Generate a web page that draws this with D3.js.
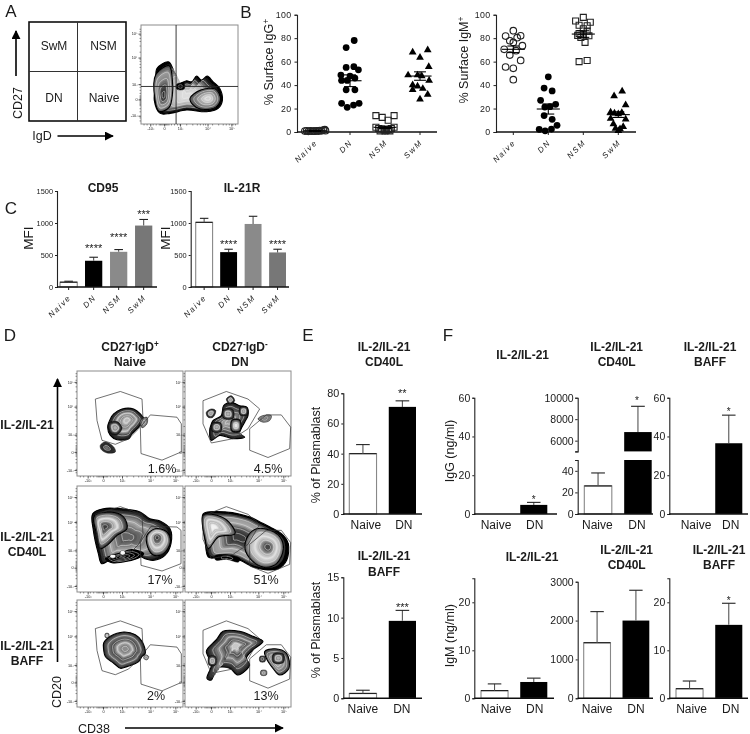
<!DOCTYPE html>
<html><head><meta charset="utf-8">
<script src="https://cdn.jsdelivr.net/npm/d3@7"></script>
<style>html,body{margin:0;padding:0;background:#fff}svg{display:block}text{font-family:"Liberation Sans",Arial,sans-serif;fill:#1a1a1a}</style>
</head><body><svg id="c" width="750" height="734"></svg>
<script>
// ---------- Panel B data: [offset within category, % value]
const cellTypes = ["Naive","DN","NSM","SwM"];
const igGNaive = [[-.29,.8],[-.24,1],[-.19,.6],[-.14,.9],[-.09,.7],[-.04,.8],[0,.7],[.05,.9],[.1,.8],[.14,1.2],[.19,1],[.24,1.6],[.28,2],[.3,1.1]];
const igGDN = [[.12,78],[-.11,72],[-.11,55],[.11,55.7],[.24,53],[-.26,48.5],[0,47.7],[-.08,44],[-.24,44],[.14,46],[-.11,36],[.14,36],[-.24,24.5],[-.08,21],[.1,23],[.26,24.5]];
const igGNSM = [[-.26,14],[-.08,12.5],[.09,10],[.26,14],[-.26,4],[-.18,3],[-.1,2.5],[-.03,2],[.04,1.5],[.1,2],[.18,3],[.26,4],[-.14,1],[.14,1],[0,.8]];
const igGSwM = [[-.21,68],[.22,70],[0,63.5],[.25,55.7],[-.34,48.5],[-.07,48.5],[.05,47.7],[.26,44],[-.21,36],[-.07,39],[.08,37],[.22,32],[0,28],[-.21,40]];
const igGMeans = [1,43.7,4,47.7];
const igGSem = [.3,5,1,3.6];
const igMNaive = [[0,86.4],[-.22,81.8],[.21,82],[.11,80.4],[-.1,77.8],[0,76.4],[.26,73.6],[-.26,70.5],[.08,69.3],[-.1,65.6],[.21,61],[-.22,55.4],[0,54.3],[0,44.6]];
const igMDN = [[0,47],[-.12,37.5],[.11,35],[-.22,27],[.21,23.6],[.05,21.6],[-.1,21.3],[-.12,14],[.11,10.8],[.25,5.7],[-.26,2.3],[-.09,1],[.09,2.5]];
const igMNSM = [[0,97.7],[-.22,94.6],[.2,93.5],[-.12,91],[.11,90.6],[0,88],[-.12,84],[.11,86],[-.16,82.4],[.16,82],[0,82.7],[-.07,80.7],[.05,76.4],[-.12,60],[.11,61]];
const igMSwM = [[.11,34.7],[-.12,30.7],[.21,23],[-.22,16.8],[-.11,16],[0,15.3],[.1,16.5],[-.22,11.4],[.21,10.8],[-.14,6.8],[.14,4.5],[-.08,3],[.05,2.6],[0,1.1]];
const igMMeans = [70.5,19.6,83.5,14.8];
const igMSem = [2.8,4.3,2.8,2.4];
const percentTicks = [0,20,40,60,80,100];

// ---------- Panel C data
const cd95Values = [75,410,550,960];
const cd95Err = [90,465,585,1055];
const cd95Stars = [null,"****","****","***"];
const cd95StarY = [null,645,812,1177];
const il21rValues = [1010,545,985,540];
const il21rErr = [1073,590,1105,590];
const il21rStars = [null,"****",null,"****"];
const il21rStarY = [null,700,null,700];
const mfiTicks = [0,500,1000,1500];

// ---------- Panels E / F data
const groups = ["Naive","DN"];
const plasmaCD40L = [40,71], plasmaCD40LErr = [46,75];
const plasmaBAFF = [.6,9.6], plasmaBAFFErr = [1,10.9];
const igG_IL = [0,4.7], igG_ILErr = [0,6];
const igG_CD40L = [26,6800], igG_CD40LErr = [38,9200];
const igG_BAFF = [0,36.5], igG_BAFFErr = [0,51];
const igM_IL = [1.6,3.4], igM_ILErr = [3,4.2];
const igM_CD40L = [1430,2000], igM_CD40LErr = [2230,2780];
const igM_BAFF = [2,15.3], igM_BAFFErr = [3.6,19.8];

// ---------- Flow plots (channel units, 0..318)
const flowTickLabels = ["-10³","0","10³","10⁴","10⁵"];
const flowXTicks = [32,78,135,220,295];
const flowYTicks = [18,73,125,210,285];
const flowMinorTicks = [10,20,40,50,60,64,68,72,76,80,84,88,92,100,110,120,128,150,170,185,195,205,212,235,255,270,280,290,302,310];
const gateLeftC1 = [[55,233],[130,256],[195,233],[198,173],[185,143],[155,113],[115,96],[75,108],[60,168]];
const gateRightC1 = [[220,185],[300,178],[313,158],[313,73],[255,48],[192,68],[190,148]];
const gateRightR2C1 = [[222,197],[300,195],[312,185],[312,85],[255,63],[192,80],[190,150]];
const gateLeftC2 = [[54,228],[124,256],[189,233],[224,203],[189,143],[144,113],[79,100],[54,158]];
const gateRightC2 = [[244,185],[289,185],[317,148],[314,83],[249,56],[194,78],[194,143]];
const darkCore = ["#222","#8a8a8a","#d8d8d8","#aaa","#666","#333"];
const lightCore = ["#222","#555","#999","#ddd","#eee","#aaa"];
const whiteCore = ["#111","#666","#999","#ccc","#f4f4f4","#fff"];
const midCore = ["#222","#444","#bbb","#777","#ccc","#888"];
const r1c1 = [
 {pts:[[110,188],[135,203],[170,203],[190,188],[200,173],[185,148],[165,128],[155,113],[120,110],[100,123],[92,148],[100,173]],focus:[150,170],stops:midCore},
 {pts:[[95,160],[120,165],[135,145],[120,125],[100,130]],focus:[115,146],stops:midCore},
 {pts:[[70,93],[85,103],[110,88],[115,73],[90,70],[73,80]],focus:[88,85],stops:["#333","#222","#666","#999"]},
 {pts:[[190,168],[210,178],[210,158],[195,146]],focus:[200,162],stops:["#777","#999"]}];
const r1c2 = [
 {pts:[[84,168],[109,183],[116,213],[139,223],[164,213],[186,208],[189,183],[179,163],[164,128],[179,118],[144,113],[104,123],[79,108],[74,138],[79,158]],focus:[130,165],stops:["#222","#444","#666","#888","#aaa","#777"]},
 {pts:[[64,193],[79,203],[92,198],[84,178],[69,178]],focus:[77,190],stops:midCore},
 {pts:[[124,233],[139,243],[149,228],[134,218]],focus:[136,231],stops:midCore},
 {pts:[[219,173],[234,183],[259,183],[254,168],[234,163]],focus:[240,174],stops:["#888","#666","#aaa"]},
 {pts:[[115,202],[143,202],[145,175],[115,175]],focus:[129,188],stops:midCore},
 {pts:[[82,160],[108,160],[108,135],[82,135]],focus:[95,148],stops:midCore},
 {pts:[[140,170],[165,170],[165,135],[140,135]],focus:[153,153],stops:whiteCore},
 {pts:[[165,208],[186,208],[186,185],[165,185]],focus:[176,196],stops:midCore}];
const r2c1 = [
 {pts:[[47,235],[79,250],[129,250],[189,240],[219,220],[249,213],[279,190],[282,145],[264,110],[229,95],[204,100],[189,107],[174,100],[139,95],[99,95],[74,85],[64,115],[49,185]],focus:[150,165],stops:["#111","#666","#aaa","#777","#555","#888"]},
 {pts:[[52,228],[100,240],[140,225],[150,190],[120,170],[90,140],[70,130],[60,170]],focus:[82,195],stops:["#333","#888","#ddd","#999","#444","#222"]},
 {pts:[[210,170],[235,190],[270,180],[280,150],[260,115],[230,110],[212,135]],focus:[240,165],stops:["#444","#aaa","#ddd","#888","#444","#222"]},
 {pts:[[85,100],[130,117],[165,127],[200,115],[190,105],[150,92],[105,88]],focus:[135,105],stops:["#000","#000"]},
 {pts:[[100,110],[115,110],[115,104],[100,104]],focus:[107,107],stops:["#fff","#fff"]},
 {pts:[[131,122],[143,122],[143,113],[131,113]],focus:[137,117],stops:["#fff","#fff"]}];
const r2c2 = [
 {pts:[[55,235],[125,240],[195,225],[225,210],[255,195],[295,170],[310,145],[305,95],[280,70],[240,67],[205,75],[165,95],[125,105],[95,103],[70,105],[60,155],[53,205]],focus:[160,165],stops:["#000","#999","#aaa","#555","#333","#555"]},
 {pts:[[55,230],[110,225],[140,200],[150,175],[100,165],[70,130],[60,160]],focus:[85,195],stops:["#555","#999","#ddd","#aaa","#eee","#fff"]},
 {pts:[[190,170],[215,190],[255,185],[285,165],[295,130],[275,85],[235,75],[200,95],[180,130]],focus:[250,135],stops:["#666","#bbb","#ddd","#aaa","#555","#1a1a1a"]},
 {pts:[[90,108],[125,112],[165,100],[160,90],[125,98],[92,96]],focus:[125,103],stops:["#000","#000"]}];
const r3c1 = [
 {pts:[[80,190],[100,210],[140,223],[175,215],[195,195],[205,160],[195,150],[185,135],[150,120],[130,115],[110,130],[85,150],[80,170]],focus:[145,173],stops:["#333","#777","#444","#bbb","#777","#ccc"]},
 {pts:[[205,155],[215,150],[210,140],[200,145]],focus:[207,147],stops:["#888","#999"]},
 {pts:[[85,218],[95,218],[95,207],[85,207]],focus:[90,212],stops:["#555","#fff"]}];
const r3c2 = [
 {pts:[[69,175],[94,200],[114,225],[164,225],[204,210],[234,195],[204,170],[184,145],[194,125],[159,95],[134,115],[94,115],[79,80],[66,85],[79,125],[64,165]],focus:[154,183],stops:["#222","#555","#999","#444","#bbb","#eee"]},
 {pts:[[239,165],[269,173],[304,160],[312,115],[284,95],[264,115],[244,145]],focus:[275,135],stops:["#444","#888","#aaa","#666"]},
 {pts:[[72,150],[92,150],[92,125],[72,125]],focus:[82,137],stops:midCore},
 {pts:[[265,158],[295,158],[295,132],[265,132]],focus:[280,145],stops:midCore},
 {pts:[[225,150],[240,150],[240,135],[225,135]],focus:[232,143],stops:["#333","#666"]},
 {pts:[[228,108],[244,108],[244,95],[228,95]],focus:[236,101],stops:["#666","#aaa"]}];
const sortBlobs = [
 {pts:[[48,167],[83,187],[96,167],[106,137],[113,122],[138,130],[153,127],[168,144],[183,132],[200,144],[218,127],[238,107],[246,72],[233,47],[198,37],[138,42],[88,32],[58,32],[40,72],[46,122]],focus:[140,85],stops:["#000","#444","#aaa","#ccc","#ddd","#ddd"]},
 {pts:[[45,150],[85,175],[95,130],[95,90],[85,50],[55,38],[42,75]],focus:[68,85],stops:["#555","#999","#888","#555","#333","#222"]},
 {pts:[[148,77],[180,102],[225,105],[240,75],[225,50],[180,45],[155,60]],focus:[203,77],stops:["#555","#777","#999","#bbb","#ddd","#aaa"]},
 {pts:[[108,120],[130,122],[130,105],[108,105]],focus:[119,113],stops:["#000","#000"]}];
const sortXTicks = [28,70,118,201,273];
const sortYTicks = [25,74,120,200,272];

// ---------- helpers
const svg = d3.select("#c");
const defs = svg.append("defs");
defs.append("filter").attr("id","soft").attr("x",0).attr("y",0).attr("width",1).attr("height",1).attr("filterUnits","objectBoundingBox")
  .append("feGaussianBlur").attr("stdDeviation",.35);
defs.append("filter").attr("id","blob").attr("x","-10%").attr("y","-10%").attr("width","120%").attr("height","120%")
  .append("feGaussianBlur").attr("stdDeviation",.45);
defs.append("marker").attr("id","arrow").attr("viewBox","0 0 10 10").attr("refX",9).attr("refY",5)
  .attr("markerUnits","userSpaceOnUse").attr("markerWidth",9).attr("markerHeight",9).attr("orient","auto")
  .append("path").attr("d","M0,0L10,5L0,10Z").attr("fill","#000");
svg.append("rect").attr("width",750).attr("height",734).attr("fill","#fff");
const root = svg.append("g").attr("filter","url(#soft)");

function label(t,x,y,o={}){
  const s = root.append("text").attr("x",x).attr("y",y).attr("dy",".35em")
    .attr("text-anchor",o.anchor||"middle").attr("font-size",o.fs||12).attr("font-weight",o.bold?"bold":null);
  if(o.rot!==undefined) s.attr("transform",`rotate(${o.rot} ${x} ${y})`);
  (Array.isArray(t)?t:[[t]]).forEach(([txt,sup])=>{
    const sp = s.append("tspan").text(txt);
    if(sup){sp.attr("dy",-(o.fs||12)*.38).attr("font-size",(o.fs||12)*.68);}
    else if(s.selectAll("tspan").size()>1){sp.attr("dy",(o.fs||12)*.38);}
  });
  return s;
}
function star(t,x,yc,fs=11){
  root.append("text").attr("x",x).attr("y",yc+.57*fs).attr("text-anchor","middle").attr("font-size",fs).text(t);
}
function arrow(x1,y1,x2,y2){
  root.append("line").attr("x1",x1).attr("y1",y1).attr("x2",x2).attr("y2",y2)
    .attr("stroke","#000").attr("stroke-width",1.6).attr("marker-end","url(#arrow)");
}
function yAxis(y,x,ticks,fs,size=2.5,spacing=0,pad=1.5){
  const g = root.append("g").attr("transform",`translate(${x},0)`)
    .call(d3.axisLeft(y).tickValues(ticks).tickSize(size).tickPadding(pad).tickFormat(d3.format("d")));
  g.select(".domain").attr("stroke","#222").attr("stroke-width",1.1);
  g.selectAll(".tick line").attr("stroke","#222");
  g.selectAll("text").attr("font-size",fs).attr("letter-spacing",spacing).attr("font-family",null);
  return g;
}
function baseline(x1,x2,y0,w=1.4){
  root.append("line").attr("x1",x1).attr("x2",x2).attr("y1",y0).attr("y2",y0).attr("stroke","#111").attr("stroke-width",w);
}
function catLabels(xs,y0,ticks=true){
  cellTypes.forEach((c,i)=>{
    const x = xs(i);
    if(ticks) root.append("line").attr("x1",x).attr("x2",x).attr("y1",y0).attr("y2",y0+3).attr("stroke","#222");
    root.append("text").attr("transform",`translate(${x+3},${y0+11}) rotate(-45)`).attr("text-anchor","end")
      .attr("font-size",8).attr("font-style","italic").attr("letter-spacing",1.6).text(c);
  });
}

function scatter(o){
  const y = d3.scaleLinear().domain([0,100]).range([o.y0,o.y100]);
  const x = d3.scalePoint().domain(cellTypes).range(o.xRange);
  const step = x.step();
  yAxis(y,o.ax,percentTicks,8.8,2.5,.35,3);
  baseline(o.ax,o.xEnd,o.y0,1.5);
  catLabels(i=>x(cellTypes[i]),o.y0);
  const shape = [d3.symbolCircle,d3.symbolCircle,d3.symbolSquare,d3.symbolTriangle];
  const size = [34,36,36,26];
  o.series.forEach((s,i)=>{
    root.append("g").selectAll("path").data(s).join("path")
      .attr("transform",d=>`translate(${x(cellTypes[i])+d[0]*step},${y(d[1])})`)
      .attr("d",d3.symbol().type(shape[i]).size(size[i]))
      .attr("fill",o.fills[i]).attr("stroke",o.fills[i]==="none"?"#222":"#000")
      .attr("stroke-width",o.fills[i]==="none"?1.1:0);
    const cx=x(cellTypes[i]), m=y(o.means[i]), hi=y(o.means[i]+o.sem[i]), lo=y(o.means[i]-o.sem[i]);
    const g=root.append("g").attr("stroke","#000").attr("stroke-width",1.1);
    g.append("line").attr("x1",cx-step*.33).attr("x2",cx+step*.33).attr("y1",m).attr("y2",m);
    g.append("line").attr("x1",cx).attr("x2",cx).attr("y1",hi).attr("y2",lo);
    g.append("line").attr("x1",cx-step*.17).attr("x2",cx+step*.17).attr("y1",hi).attr("y2",hi);
    g.append("line").attr("x1",cx-step*.17).attr("x2",cx+step*.17).attr("y1",lo).attr("y2",lo);
  });
}

function drawBar(x0,w,yTop,yBase,c){
  root.append("rect").attr("x",x0).attr("y",yTop).attr("width",w).attr("height",Math.max(0,yBase-yTop))
    .attr("fill",c).attr("stroke",c==="#fff"?"#888":"none").attr("stroke-width",1.1);
  if(c==="#fff") root.append("line").attr("x1",x0).attr("x2",x0+w).attr("y1",yTop).attr("y2",yTop).attr("stroke","#222").attr("stroke-width",1.2);
}
function errBar(x,yTop,yBar,cap){
  root.append("line").attr("x1",x).attr("x2",x).attr("y1",yBar).attr("y2",yTop).attr("stroke","#555").attr("stroke-width",1.1);
  root.append("line").attr("x1",x-cap).attr("x2",x+cap).attr("y1",yTop).attr("y2",yTop).attr("stroke","#222").attr("stroke-width",1.1);
}
function barChart(o){
  const y = d3.scaleLinear().domain(o.domain).range([o.y0,o.yTop]);
  const x = d3.scaleBand().domain(o.cats).range(o.band).paddingInner(.31).paddingOuter(0);
  yAxis(y,o.ax,o.ticks,o.fs||10.5,o.tick||2,o.spacing||0,o.pad===undefined?2:o.pad);
  o.cats.forEach((c,i)=>{
    if(o.values[i]>0){
      drawBar(x(c),x.bandwidth(),y(o.values[i]),o.y0,o.colors[i]);
      errBar(x(c)+x.bandwidth()/2,y(o.err[i]),y(o.values[i]),x.bandwidth()*(o.cap||.25));
    }
  });
  baseline(o.ax,o.xEnd,o.y0);
  if(o.catStyle) catLabels(i=>x(o.cats[i])+x.bandwidth()/2,o.y0);
  else o.cats.forEach((c,i)=>label(c,x(c)+x.bandwidth()/2+(o.labelDx?o.labelDx[i]:0),o.y0+10.5,{fs:12}));
  if(o.stars) o.cats.forEach((c,i)=>{ if(o.stars[i]) star(o.stars[i],x(c)+x.bandwidth()/2,y(o.starY[i]),o.starFs||11); });
  return {x,y};
}

function drawBlobSet(g,blobs,sx,sy){
  const gg = g.append("g").attr("filter","url(#blob)");
  const line = d3.line().x(d=>sx(d[0])).y(d=>sy(d[1])).curve(d3.curveCatmullRomClosed.alpha(.5));
  blobs.forEach(b=>{
    const col = d3.scaleLinear().domain(b.stops.map((_,i)=>i/(b.stops.length-1))).range(b.stops);
    const n = b.pts.length<7 ? 5 : 13;
    d3.range(n).forEach(k=>{
      const t = 1-k/n*.92;
      const pts = b.pts.map(p=>[b.focus[0]+(p[0]-b.focus[0])*t,b.focus[1]+(p[1]-b.focus[1])*t]);
      gg.append("path").attr("d",line(pts)).attr("fill",col(1-t))
        .attr("stroke",k===0?"#000":(k%3===0?"#eee":"none"))
        .attr("stroke-width",k===0?(b.pts.length>=7?1.1:.5):.5);
    });
  });
}
function flowPlot(o){
  const sx = d3.scaleLinear().domain([0,o.w||318]).range([o.x0,o.x1]);
  const sy = d3.scaleLinear().domain([0,o.h||318]).range([o.y1,o.y0]);
  const g = root.append("g");
  g.append("rect").attr("x",o.x0).attr("y",o.y0).attr("width",o.x1-o.x0).attr("height",o.y1-o.y0)
    .attr("fill","#fff").attr("stroke","#8c8c8c").attr("stroke-width",1);
  const clipId = "clip"+o.id;
  defs.append("clipPath").attr("id",clipId).append("rect").attr("x",o.x0).attr("y",o.y0).attr("width",o.x1-o.x0).attr("height",o.y1-o.y0);
  drawBlobSet(g.append("g").attr("clip-path",`url(#${clipId})`),o.blobs,sx,sy);
  const gl = d3.line().x(d=>sx(d[0])).y(d=>sy(d[1])).curve(d3.curveLinearClosed);
  (o.gates||[]).forEach(p=>g.append("path").attr("d",gl(p)).attr("fill","none").attr("stroke","#333").attr("stroke-width",.7));
  const xT=o.xTicks||flowXTicks, yT=o.yTicks||flowYTicks;
  const ax = g.append("g").attr("transform",`translate(0,${o.y1})`)
    .call(d3.axisBottom(sx).tickValues(xT).tickSize(2.5).tickPadding(1).tickFormat((d,i)=>flowTickLabels[i]));
  const ay = g.append("g").attr("transform",`translate(${o.x0},0)`)
    .call(d3.axisLeft(sy).tickValues(yT).tickSize(2.5).tickPadding(1).tickFormat((d,i)=>flowTickLabels[i]));
  [ax,ay].forEach(a=>{a.select(".domain").remove();a.selectAll("line").attr("stroke","#555");a.selectAll("text").attr("font-size",3.8).attr("font-family",null);});
  const mt = o.w?flowMinorTicks.map(v=>v*.92):flowMinorTicks;
  g.append("g").selectAll("line").data(mt).join("line")
    .attr("x1",d=>sx(d)).attr("x2",d=>sx(d)).attr("y1",o.y1).attr("y2",o.y1+1.5).attr("stroke","#333").attr("stroke-width",.5);
  g.append("g").selectAll("line").data(mt).join("line")
    .attr("y1",d=>sy(d)).attr("y2",d=>sy(d)).attr("x1",o.x0).attr("x2",o.x0-1.5).attr("stroke","#333").attr("stroke-width",.5);
  return {sx,sy,g};
}

// ---------- Panel letters
[["A",11,11],["B",246,12],["C",11,208],["D",10,335],["E",308,335],["F",448,335]].forEach(d=>label(d[0],d[1],d[2],{fs:17}));

// ---------- Panel A
root.append("rect").attr("x",29).attr("y",22).attr("width",97).attr("height",99).attr("fill","none").attr("stroke","#111").attr("stroke-width",1.6);
root.append("line").attr("x1",77.5).attr("x2",77.5).attr("y1",22).attr("y2",121).attr("stroke","#333");
root.append("line").attr("x1",29).attr("x2",126).attr("y1",71.5).attr("y2",71.5).attr("stroke","#333");
label("SwM",54,46,{fs:12});label("NSM",103.5,46,{fs:12});label("DN",54,98,{fs:12});label("Naive",104,98,{fs:12});
label("CD27",18,103,{fs:12.5,rot:-90});
arrow(16,76,16,31);
label("IgD",42,136,{fs:12.5});
arrow(57.5,136,113,136);
const sortPlot = flowPlot({id:"s",x0:141,x1:238,y0:25,y1:124,w:293,h:298,blobs:sortBlobs,xTicks:sortXTicks,yTicks:sortYTicks});
sortPlot.g.append("line").attr("x1",sortPlot.sx(106)).attr("x2",sortPlot.sx(106)).attr("y1",25).attr("y2",124).attr("stroke","#222").attr("stroke-width",.9);
sortPlot.g.append("line").attr("y1",sortPlot.sy(113)).attr("y2",sortPlot.sy(113)).attr("x1",141).attr("x2",238).attr("stroke","#222").attr("stroke-width",.9);

// ---------- Panel B
label([["% Surface IgG"],["+",1]],269,62,{fs:12.5,rot:-90});
label([["% Surface IgM"],["+",1]],464,60,{fs:12.5,rot:-90});
scatter({ax:297,xEnd:437,y0:132,y100:14.7,xRange:[315,420],series:[igGNaive,igGDN,igGNSM,igGSwM],means:igGMeans,sem:igGSem,fills:["none","#000","none","#000"]});
scatter({ax:496,xEnd:636,y0:132,y100:14.7,xRange:[513.3,618.3],series:[igMNaive,igMDN,igMNSM,igMSwM],means:igMMeans,sem:igMSem,fills:["none","#000","none","#000"]});

// ---------- Panel C
const cColors = ["#fff","#000","#8a8a8a","#777"];
label("CD95",103,188,{fs:12,bold:true});label("IL-21R",242,188,{fs:12,bold:true});
label("MFI",28,238,{fs:13.5,rot:-90});label("MFI",165,238,{fs:13.5,rot:-90});
barChart({cats:cellTypes,values:cd95Values,err:cd95Err,colors:cColors,domain:[0,1500],ticks:mfiTicks,ax:57,xEnd:157,y0:287,yTop:191,band:[60,152.3],fs:7.4,tick:2,catStyle:true,stars:cd95Stars,starY:cd95StarY,starFs:11});
barChart({cats:cellTypes,values:il21rValues,err:il21rErr,colors:cColors,domain:[0,1500],ticks:mfiTicks,ax:190.7,xEnd:289,y0:287,yTop:191,band:[195.7,286],fs:7.4,tick:2,catStyle:true,stars:il21rStars,starY:il21rStarY,starFs:11});

// ---------- Panel D
label([["CD27"],["-",1],["IgD"],["+",1]],130,347,{fs:12,bold:true});label("Naive",130,362,{fs:12,bold:true});
label([["CD27"],["-",1],["IgD"],["-",1]],240,347,{fs:12,bold:true});label("DN",240,362,{fs:12,bold:true});
label("IL-2/IL-21",27,425,{fs:12.2,bold:true});
label("IL-2/IL-21",27,537,{fs:12.2,bold:true});label("CD40L",27,552,{fs:12.2,bold:true});
label("IL-2/IL-21",27,646,{fs:12.2,bold:true});label("BAFF",27,661,{fs:12.2,bold:true});
label("CD20",57,692,{fs:12.5,rot:-90});label("CD38",94,729,{fs:12.5});
arrow(57.5,662,57.5,379);
arrow(125,728,283,728);
const cols=[[77,183],[185,291]], rows=[[371,476],[486,592],[600,707]];
const grid=[
 {b:r1c1,g:[gateLeftC1,gateRightC1],t:"1.6%",px:162,py:469,r:0,c:0},
 {b:r1c2,g:[gateLeftC2,gateRightC2],t:"4.5%",px:268,py:469,r:0,c:1},
 {b:r2c1,g:[gateLeftC1,gateRightR2C1],t:"17%",px:160,py:580,r:1,c:0},
 {b:r2c2,g:[gateLeftC2,gateRightC2],t:"51%",px:266,py:580,r:1,c:1},
 {b:r3c1,g:[gateLeftC1,gateRightC1],t:"2%",px:156,py:696,r:2,c:0},
 {b:r3c2,g:[gateLeftC2,gateRightC2],t:"13%",px:266,py:696,r:2,c:1}];
grid.forEach((d,i)=>{
  flowPlot({id:"f"+i,x0:cols[d.c][0],x1:cols[d.c][1],y0:rows[d.r][0],y1:rows[d.r][1],blobs:d.b,gates:d.g});
  label(d.t,d.px,d.py,{fs:12.5});
});

// ---------- Panel E
label("IL-2/IL-21",384,347,{fs:12,bold:true});label("CD40L",384,362,{fs:12,bold:true});
label("IL-2/IL-21",384,556,{fs:12,bold:true});label("BAFF",384,572,{fs:12,bold:true});
label("% of Plasmablast",316,455,{fs:12.5,rot:-90});label("% of Plasmablast",316,630,{fs:12.5,rot:-90});
const twoColors=["#fff","#000"];
barChart({cats:groups,values:plasmaCD40L,err:plasmaCD40LErr,colors:twoColors,domain:[0,80],ticks:[0,20,40,60,80],ax:343.3,xEnd:422,y0:514,yTop:393.3,band:[349.3,416],stars:[null,"**"],starY:[null,82],labelDx:[3,1.5],fs:10.8});
barChart({cats:groups,values:plasmaBAFF,err:plasmaBAFFErr,colors:twoColors,domain:[0,15],ticks:[0,5,10,15],ax:343.3,xEnd:422,y0:698.3,yTop:577.3,band:[349.3,416],stars:[null,"***"],starY:[null,11.6],labelDx:[0,-.5],fs:10.8});

// ---------- Panel F (IgG)
label("IL-2/IL-21",522.7,355,{fs:12,bold:true});
label("IL-2/IL-21",616.7,347,{fs:12,bold:true});label("CD40L",616.7,362,{fs:12,bold:true});
label("IL-2/IL-21",710,347,{fs:12,bold:true});label("BAFF",710,362,{fs:12,bold:true});
label("IgG (ng/ml)",450,451,{fs:12.5,rot:-90});
barChart({cats:groups,values:igG_IL,err:igG_ILErr,colors:twoColors,domain:[0,60],ticks:[0,20,40,60],ax:474.3,xEnd:557,y0:514,yTop:397.7,band:[481,547.3],stars:[null,"*"],starY:[null,8.8],labelDx:[1.5,1],starFs:10});
// broken axis panel
(function(){
  const low=d3.scaleLinear().domain([0,50]).range([514,460]);
  const up=d3.scaleLinear().domain([5000,10000]).range([451.4,397.7]);
  const x=d3.scaleBand().domain(groups).range([584.3,651.7]).paddingInner(.31).paddingOuter(0);
  yAxis(low,577.7,[0,20,40,50],10.5).selectAll(".tick").filter(d=>d===50).select("text").remove();
  yAxis(up,577.7,[5000,6000,8000,10000],10.5).selectAll(".tick").filter(d=>d===5000).select("text").remove();
  const c=x("Naive"),d=x("DN"),w=x.bandwidth();
  drawBar(c,w,low(igG_CD40L[0]),514,twoColors[0]);
  errBar(c+w/2,low(igG_CD40LErr[0]),low(igG_CD40L[0]),w*.25);
  drawBar(d,w,low(50),514,twoColors[1]);
  drawBar(d,w,up(igG_CD40L[1]),up(5000),twoColors[1]);
  errBar(d+w/2,up(igG_CD40LErr[1]),up(igG_CD40L[1]),w*.25);
  baseline(577.7,653,514);
  label("Naive",c+w/2-.7,524.5,{fs:12});label("DN",d+w/2-1,524.5,{fs:12});
  star("*",d+w/2-1,up(9900),10);
})();
barChart({cats:groups,values:igG_BAFF,err:igG_BAFFErr,colors:twoColors,domain:[0,60],ticks:[0,20,40,60],ax:669.3,xEnd:748,y0:514,yTop:397.7,band:[676,742.3],stars:[null,"*"],starY:[null,54],labelDx:[6.5,2],starFs:10});

// ---------- Panel F (IgM)
label("IL-2/IL-21",532,557,{fs:12,bold:true});
label("IL-2/IL-21",626.7,549.5,{fs:12,bold:true});label("CD40L",626.7,565,{fs:12,bold:true});
label("IL-2/IL-21",719,549.5,{fs:12,bold:true});label("BAFF",719,565,{fs:12,bold:true});
label("IgM (ng/ml)",450,635.7,{fs:12.5,rot:-90});
barChart({cats:groups,values:igM_IL,err:igM_ILErr,colors:twoColors,domain:[0,25],ticks:[0,10,20],ax:474.3,xEnd:554,y0:698.3,yTop:578.3,band:[481,547.3],labelDx:[1.5,1]});
barChart({cats:groups,values:igM_CD40L,err:igM_CD40LErr,colors:twoColors,domain:[0,3000],ticks:[0,1000,2000,3000],ax:577.7,xEnd:653,y0:698.3,yTop:581.7,band:[583.7,649.3],labelDx:[0,0]});
barChart({cats:groups,values:igM_BAFF,err:igM_BAFFErr,colors:twoColors,domain:[0,25],ticks:[0,10,20],ax:669.3,xEnd:748,y0:698.3,yTop:578.3,band:[676,742.3],stars:[null,"*"],starY:[null,20.9],labelDx:[2,2],starFs:10});
</script></body></html>
